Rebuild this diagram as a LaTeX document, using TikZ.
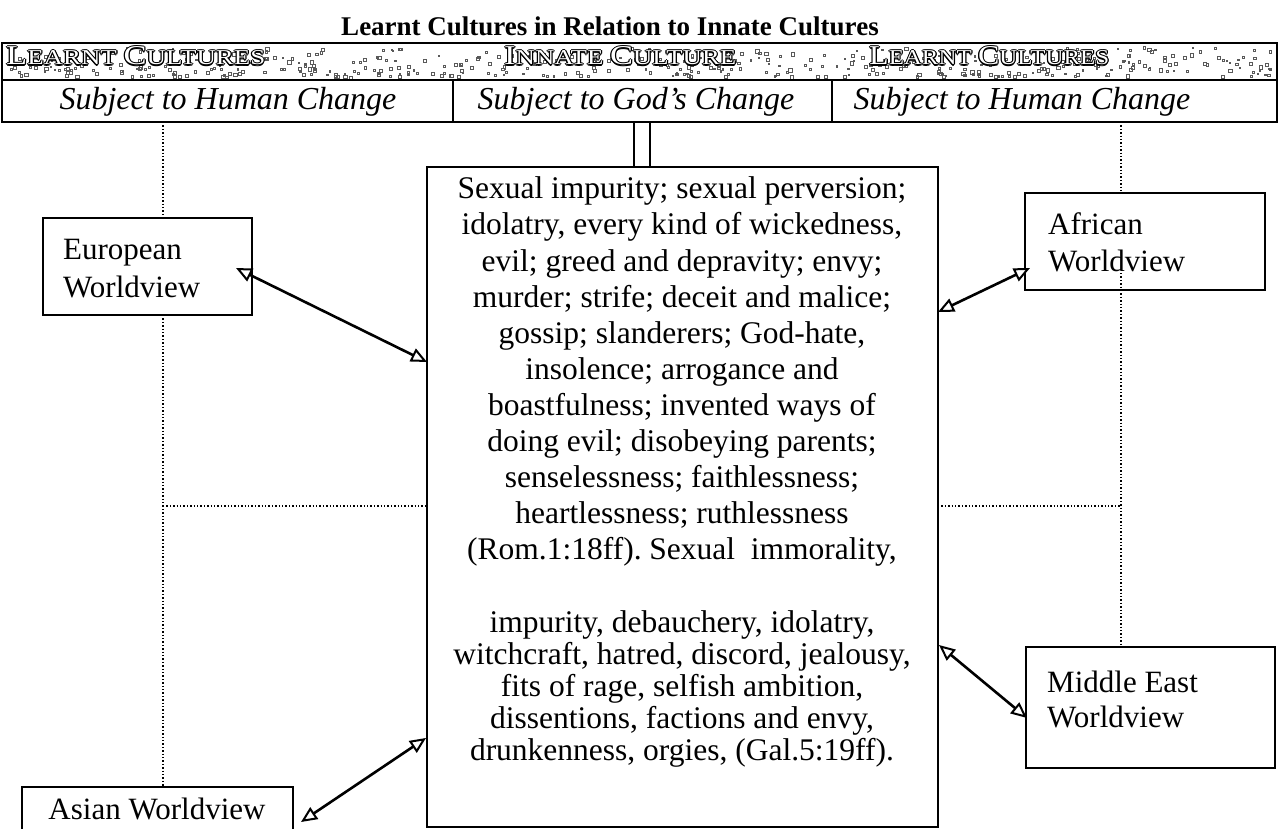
\documentclass[tikz,border=0pt]{standalone}
\usepackage{fontspec}
\setmainfont{Liberation Serif}
\usetikzlibrary{arrows.meta,calc}
\newcommand\SCbig{\fontsize{27}{27}\selectfont}
\newcommand\SCsm{\fontsize{21}{21}\selectfont}
\tikzset{
  bx/.style={draw, line width=2pt, fill=white, inner sep=0pt, outer sep=0pt, anchor=north west},
  lbl/.style={font=\fontsize{31}{36}\selectfont, inner sep=0pt, anchor=base west},
  mtxt/.style={font=\fontsize{31.5}{36}\selectfont, inner sep=0pt, anchor=base},
  subj/.style={font=\fontsize{32}{38}\selectfont\itshape, inner sep=0pt, anchor=base},
  htx/.style={inner sep=0pt, anchor=base west},
  dots/.style={dotted, line width=1.4pt},
  arr/.style={line width=2.6pt,
    {Triangle[open,length=16pt,width=14pt,fill=white,line width=2pt]}-{Triangle[open,length=16pt,width=14pt,fill=white,line width=2pt]}},
}
\newcommand\olab[4]{%
  \foreach \dx/\dy in {-1.2/0,1.2/0,0/-1.2,0/1.2,-.85/-.85,.85/.85,-.85/.85,.85/-.85}{%
    \node[htx, text=black, xshift=\dx pt, yshift=\dy pt] at (#2,#3) {#4};}%
  \node[htx, text=white] (#1) at (#2,#3) {#4};}
\begin{document}
\frenchspacing
\begin{tikzpicture}[x=1pt,y=-1pt]
\useasboundingbox (0,0) rectangle (1280,829);
\clip (0,0) rectangle (1280,829);
\fill[white] (0,0) rectangle (1280,829);

% title
\node[font=\fontsize{27}{32}\selectfont\bfseries, inner sep=0pt, anchor=base] (title) at (610,36)
  {Learnt Cultures in Relation to Innate Cultures};

% header
\node[bx, minimum width=1275pt, minimum height=37pt] (hrow) at (2,43) {};
\pgfmathsetseed{12}
\foreach \k in {1,...,460}{%
  \pgfmathsetmacro\rx{5+1268*rnd}%
  \pgfmathsetmacro\ry{45+31*(rnd^0.6)}%
  \pgfmathsetmacro\rs{1+2.5*rnd}%
  \draw[line width=0.6pt, black!65] (\rx,\ry) rectangle ++(\rs,\rs);}
\olab{hl}{6}{65}{\resizebox{259pt}{18pt}{\SCbig L\SCsm EARNT \SCbig C\SCsm ULTURES}}
\olab{hm}{504}{65}{\resizebox{232pt}{18pt}{\SCbig I\SCsm NNATE \SCbig C\SCsm ULTURE}}
\olab{hr}{869}{65}{\resizebox{240pt}{18pt}{\SCbig L\SCsm EARNT \SCbig C\SCsm ULTURES}}
\node[bx, minimum width=451pt, minimum height=42pt] (c1) at (2,80) {};
\node[bx, minimum width=379pt, minimum height=42pt] (c2) at (453,80) {};
\node[bx, minimum width=445pt, minimum height=42pt] (c3) at (832,80) {};
\node[subj] (s1) at (228,110) {Subject to Human Change};
\node[subj] (s2) at (636,110) {Subject to God’s Change};
\node[subj] (s3) at (1022,110) {Subject to Human Change};

% stub and main box
\node[bx, minimum width=16pt, minimum height=45pt] (stub) at (634,122) {};
\node[bx, minimum width=511pt, minimum height=660pt] (main) at (427,167) {};
\foreach \y/\t [count=\i] in {
  199/{Sexual impurity; sexual perversion;},
  235/{idolatry, every kind of wickedness,},
  271/{evil; greed and depravity; envy;},
  307/{murder; strife; deceit and malice;},
  343/{gossip; slanderers; God-hate,},
  379/{insolence; arrogance and},
  415/{boastfulness; invented ways of},
  451/{doing evil; disobeying parents;},
  487/{senselessness; faithlessness;},
  523/{heartlessness; ruthlessness},
  559/{(Rom.1:18ff). Sexual\ \ immorality,},
  632/{impurity, debauchery, idolatry,},
  664/{witchcraft, hatred, discord, jealousy,},
  696/{fits of rage, selfish ambition,},
  728/{dissentions, factions and envy,},
  760/{drunkenness, orgies, (Gal.5:19ff).}}{%
  \node[mtxt] (m\i) at (682,\y) {\t};}

% worldview boxes
\node[bx, minimum width=209pt, minimum height=97pt] (eu) at (43,218) {};
\node[lbl] (eu1) at (63,260) {European};
\node[lbl] (eu2) at (63,297) {Worldview};
\node[bx, minimum width=240pt, minimum height=97pt] (af) at (1025,193) {};
\node[lbl] (af1) at (1048,235) {African};
\node[lbl] (af2) at (1048,272) {Worldview};
\node[bx, minimum width=249pt, minimum height=121pt] (me) at (1026,647) {};
\node[lbl] (me1) at (1047,692) {Middle East};
\node[lbl] (me2) at (1047,727) {Worldview};
\node[bx, minimum width=271pt, minimum height=80pt] (as) at (22,787) {};
\node[lbl, anchor=base] (as1) at (157,819) {Asian Worldview};

% dotted guide lines
\coordinate (xl) at (163,0);
\coordinate (xr) at (1121,0);
\coordinate (yh) at (0,506);
\coordinate (afin) at (1121,273);
\draw[dots] (xl |- c1.south) -- (xl |- eu.north);
\draw[dots] (xl |- eu.south) -- (xl |- as.north);
\draw[dots] (xl |- yh) -- (main.west |- yh);
\draw[dots] (xr |- c3.south) -- (xr |- af.north);
\draw[dots] (afin) -- (xr |- me.north);
\draw[dots] (main.east |- yh) -- (xr |- yh);

% arrows
\draw[arr] ($(eu.north east)+(-16,50)$) -- ($(main.north west)+(0,195)$);
\draw[arr] ($(main.north east)+(0,145)$) -- ($(af.north west)+(5,75)$);
\draw[arr] ($(main.north east)+(1,478)$) -- ($(me.north west)+(1,71)$);
\draw[arr] ($(main.north west)+(-1,571)$) -- ($(as.north east)+(8,35)$);
\end{tikzpicture}
\end{document}
